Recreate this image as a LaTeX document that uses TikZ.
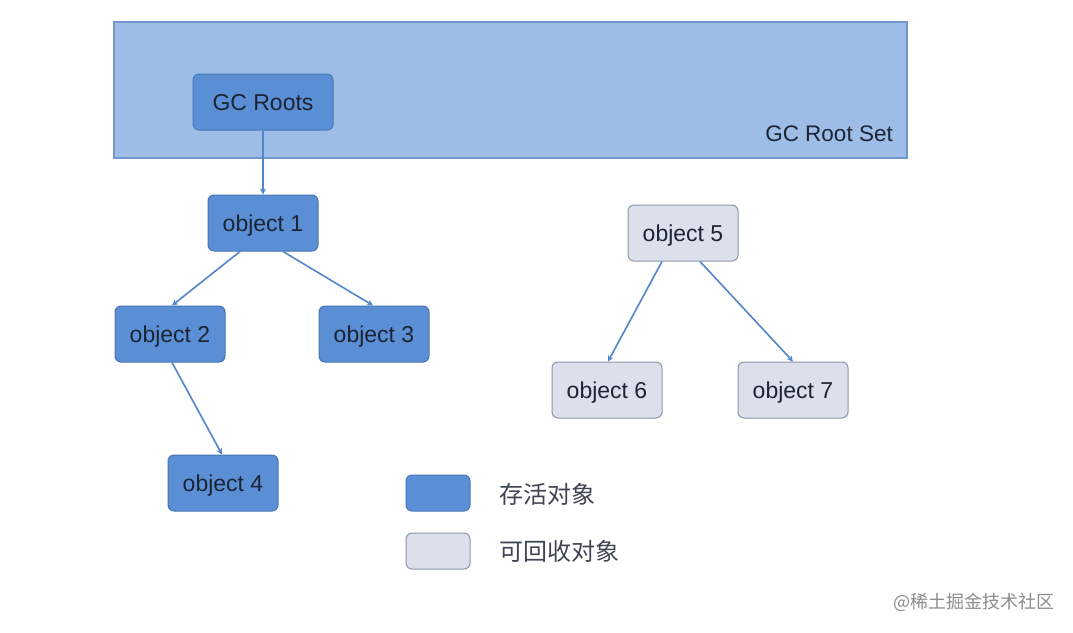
\documentclass[tikz,border=0pt]{standalone}
\usepackage{fontspec}
\setmainfont{Liberation Sans}
\newfontfamily\cjk{Noto Sans CJK SC}
\usetikzlibrary{arrows.meta}
\definecolor{setfill}{HTML}{9DBDE7}
\definecolor{setdraw}{HTML}{7096CB}
\definecolor{livefill}{HTML}{5B8FD5}
\definecolor{livedraw}{HTML}{4676B5}
\definecolor{deadfill}{HTML}{DCE0EA}
\definecolor{deaddraw}{HTML}{8C96AC}
\definecolor{txt}{HTML}{1C2434}
\definecolor{arrowc}{HTML}{5285CC}
\tikzset{
  obj/.style={rounded corners=6pt, minimum width=110pt, minimum height=56pt, line width=1pt, text=txt, font=\fontsize{23}{26}\selectfont, inner sep=0pt, text height=16pt, text depth=0pt},
  live/.style={obj, fill=livefill, draw=livedraw},
  dead/.style={obj, fill=deadfill, draw=deaddraw},
  conn/.style={draw=arrowc, line width=1.6pt, -{Stealth[length=6pt,width=6pt]}},
}
\begin{document}
\begin{tikzpicture}[x=1pt,y=-1pt]
\useasboundingbox[fill=white] (0,0) rectangle (1073,632);
\node[draw=setdraw, fill=setfill, line width=1.2pt, minimum width=793pt, minimum height=136pt, inner sep=0pt] (set) at (510.5,90) {};
\node[anchor=east, text=txt, font=\fontsize{22.5}{26}\selectfont, text height=16pt, text depth=0pt, inner sep=0pt] (setlabel) at (893,133) {GC Root Set};
\node[live, minimum width=140pt] (roots) at (263,102) {GC Roots};
\node[live] (o1) at (263,223) {object 1};
\node[live] (o2) at (170,334) {object 2};
\node[live] (o3) at (374,334) {object 3};
\node[live] (o4) at (223,483) {object 4};
\node[dead] (o5) at (683,233) {object 5};
\node[dead] (o6) at (607,390) {object 6};
\node[dead] (o7) at (793,390) {object 7};
\draw[conn] (roots.south) -- (o1.north);
\draw[conn] ([xshift=-23pt]o1.south) -- ([xshift=2pt]o2.north);
\draw[conn] ([xshift=20pt]o1.south) -- ([xshift=-1pt]o3.north);
\draw[conn] ([xshift=2pt]o2.south) -- ([xshift=-1pt]o4.north);
\draw[conn] ([xshift=-21pt]o5.south) -- ([xshift=1pt]o6.north);
\draw[conn] ([xshift=17pt]o5.south) -- ([xshift=0pt]o7.north);
\node[live, minimum width=64pt, minimum height=36pt] (leg1) at (438,493) {};
\node[dead, minimum width=64pt, minimum height=36pt] (leg2) at (438,551) {};
\node[anchor=west, text=txt!85!white, font=\cjk\fontsize{24}{26}\selectfont, inner sep=0pt] (leg1t) at (499,494) {存活对象};
\node[anchor=west, text=txt!85!white, font=\cjk\fontsize{24}{26}\selectfont, inner sep=0pt] (leg2t) at (499,551) {可回收对象};
\node[anchor=east, text=black!45, font=\cjk\fontsize{18}{20}\selectfont, inner sep=0pt] (wm) at (1055,602) {@稀土掘金技术社区};
\end{tikzpicture}
\end{document}
